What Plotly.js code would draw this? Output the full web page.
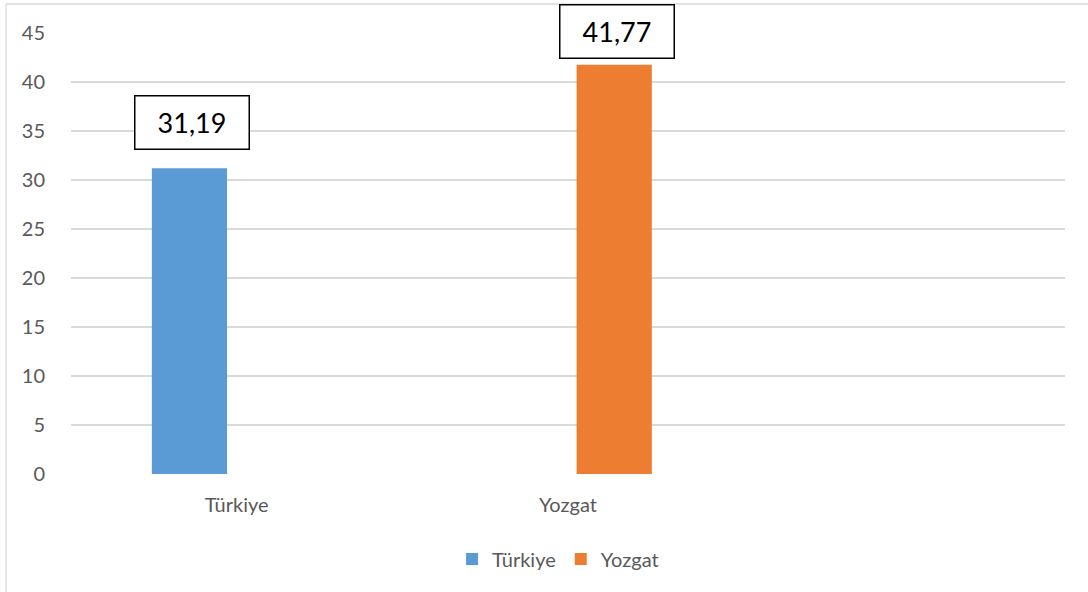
<!DOCTYPE html>
<html>
<head>
<meta charset="utf-8">
<script src="https://cdn.plot.ly/plotly-3.0.1.min.js"></script>
<style>
  body { margin: 0; background: #fff; }
  #chart { width: 1088px; height: 592px; }
</style>
</head>
<body>
<div id="chart"></div>
<script>
// data
var categories = ["Türkiye", "Yozgat"];
var turkiyeValues = [31.19];
var yozgatValues = [41.77];
var valueLabels = ["31,19", "41,77"];
var yTicks = [0, 5, 10, 15, 20, 25, 30, 35, 40, 45];

var barWidth = 0.227;
var offsets = [-0.256, 0.026];
var labelShift = [18, 6];   // px gap between bar top and its box

var trace1 = {
  x: [categories[0]],
  y: turkiyeValues,
  name: "Türkiye",
  type: "bar",
  width: barWidth,
  offset: offsets[0],
  marker: { color: "#5B9BD5" },
  hoverinfo: "y"
};

var trace2 = {
  x: [categories[1]],
  y: yozgatValues,
  name: "Yozgat",
  type: "bar",
  width: barWidth,
  offset: offsets[1],
  marker: { color: "#ED7D31" },
  hoverinfo: "y"
};

var allValues = [turkiyeValues[0], yozgatValues[0]];
var annotations = allValues.map(function (v, i) {
  return {
    xref: "x", yref: "y",
    x: i + offsets[i] + barWidth / 2,
    xshift: 3,
    y: v,
    yanchor: "bottom",
    yshift: labelShift[i],
    text: valueLabels[i],
    showarrow: false,
    font: { family: "Lato, 'Open Sans', sans-serif", size: 27, color: "#000" },
    bgcolor: "#fff",
    bordercolor: "#000",
    borderwidth: 1.5,
    borderpad: 0,
    width: 113,
    height: 52
  };
});

var layout = {
  width: 1088,
  height: 592,
  margin: { l: 71, r: 23, t: 33, b: 118 },
  paper_bgcolor: "#fff",
  plot_bgcolor: "#fff",
  font: { family: "Lato, 'Open Sans', sans-serif", size: 20, color: "#595959" },
  barmode: "group",
  showlegend: true,
  legend: {
    orientation: "h",
    x: 0.49, xanchor: "center",
    y: -0.193, yanchor: "middle",
    font: { size: 20, color: "#595959" },
    itemclick: false
  },
  xaxis: {
    type: "category",
    categoryarray: categories,
    range: [-0.5, 2.5],
    showgrid: false,
    showline: false,
    zeroline: false,
    ticks: "outside",
    ticklen: 13,
    tickcolor: "rgba(0,0,0,0)",
    tickfont: { size: 20, color: "#595959" }
  },
  yaxis: {
    range: [0, 45],
    tickvals: yTicks,
    showgrid: true,
    gridcolor: "#d9d9d9",
    gridwidth: 1.5,
    zeroline: false,
    showline: false,
    ticks: "outside",
    ticklen: 21,
    tickcolor: "rgba(0,0,0,0)",
    tickfont: { size: 20, color: "#595959" }
  },
  annotations: annotations,
  shapes: [
    // chart frame (left and top edges show in the crop)
    { type: "line", xref: "paper", yref: "paper", x0: -0.0654, x1: -0.0654, y0: -0.3, y1: 1.0658,
      line: { color: "#d9d9d9", width: 1.3 } },
    { type: "line", xref: "paper", yref: "paper", x0: -0.0654, x1: 1.1, y0: 1.0658, y1: 1.0658,
      line: { color: "#d9d9d9", width: 1.3 } }
  ]
};

Plotly.newPlot("chart", [trace1, trace2], layout, { displayModeBar: false, staticPlot: true });
</script>
</body>
</html>
